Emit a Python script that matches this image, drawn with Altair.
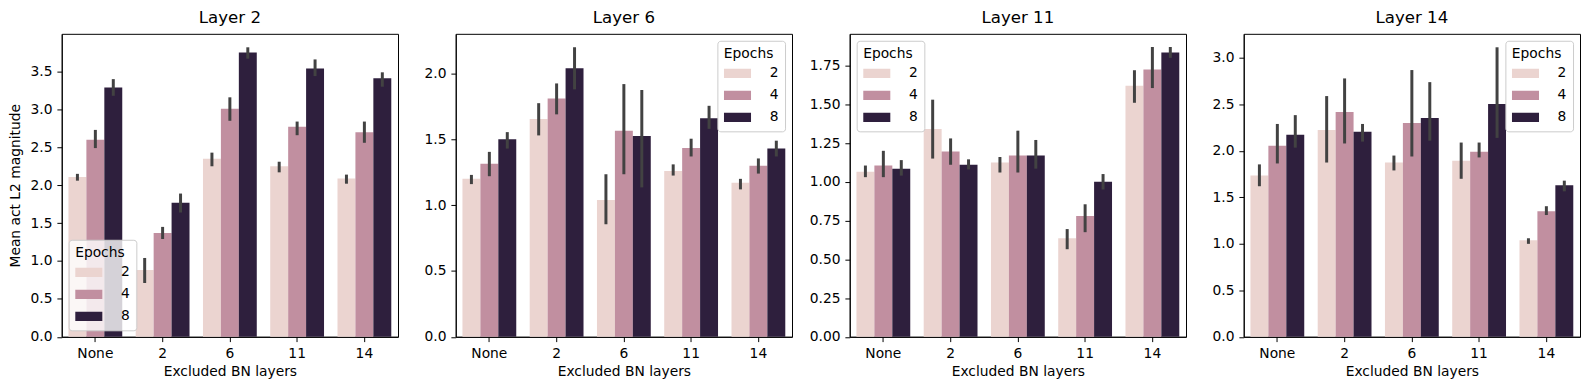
import altair as alt
import pandas as pd

categories = ["None", "2", "6", "11", "14"]
epochs = ["2", "4", "8"]
layers = ["Layer 2", "Layer 6", "Layer 11", "Layer 14"]

# mean values [panel][epoch][category]
means = {
    "Layer 2": {
        "2": [2.11, 0.88, 2.35, 2.25, 2.09],
        "4": [2.60, 1.37, 3.01, 2.77, 2.70],
        "8": [3.29, 1.77, 3.75, 3.54, 3.41],
    },
    "Layer 6": {
        "2": [1.20, 1.655, 1.04, 1.26, 1.17],
        "4": [1.315, 1.81, 1.565, 1.435, 1.30],
        "8": [1.50, 2.04, 1.525, 1.66, 1.43],
    },
    "Layer 11": {
        "2": [1.065, 1.34, 1.125, 0.635, 1.62],
        "4": [1.105, 1.195, 1.17, 0.78, 1.725],
        "8": [1.085, 1.11, 1.17, 1.00, 1.835],
    },
    "Layer 14": {
        "2": [1.735, 2.225, 1.875, 1.895, 1.04],
        "4": [2.055, 2.42, 2.30, 1.99, 1.35],
        "8": [2.175, 2.205, 2.355, 2.505, 1.63],
    },
}
err_lo = {
    "Layer 2": {
        "2": [2.06, 0.71, 2.25, 2.17, 2.02],
        "4": [2.49, 1.29, 2.85, 2.66, 2.56],
        "8": [3.18, 1.64, 3.67, 3.44, 3.30],
    },
    "Layer 6": {
        "2": [1.16, 1.53, 0.855, 1.225, 1.12],
        "4": [1.22, 1.69, 1.235, 1.37, 1.24],
        "8": [1.43, 1.88, 1.135, 1.58, 1.37],
    },
    "Layer 11": {
        "2": [1.03, 1.15, 1.06, 0.565, 1.51],
        "4": [1.03, 1.11, 1.06, 0.675, 1.605],
        "8": [1.04, 1.08, 1.085, 0.95, 1.80],
    },
    "Layer 14": {
        "2": [1.62, 1.875, 1.79, 1.70, 1.00],
        "4": [1.865, 2.08, 1.94, 1.93, 1.31],
        "8": [2.035, 2.10, 2.11, 2.14, 1.565],
    },
}
err_hi = {
    "Layer 2": {
        "2": [2.15, 1.04, 2.43, 2.31, 2.14],
        "4": [2.73, 1.45, 3.16, 2.84, 2.84],
        "8": [3.40, 1.89, 3.82, 3.66, 3.49],
    },
    "Layer 6": {
        "2": [1.23, 1.775, 1.235, 1.31, 1.20],
        "4": [1.405, 1.925, 1.92, 1.505, 1.355],
        "8": [1.555, 2.20, 1.875, 1.755, 1.49],
    },
    "Layer 11": {
        "2": [1.105, 1.53, 1.16, 0.695, 1.72],
        "4": [1.20, 1.28, 1.33, 0.855, 1.87],
        "8": [1.14, 1.145, 1.27, 1.05, 1.87],
    },
    "Layer 14": {
        "2": [1.855, 2.59, 1.95, 2.09, 1.06],
        "4": [2.29, 2.78, 2.87, 2.09, 1.405],
        "8": [2.385, 2.29, 2.74, 3.115, 1.68],
    },
}
y_max = {"Layer 2": 3.998, "Layer 6": 2.302, "Layer 11": 1.955, "Layer 14": 3.26}
y_ticks = {
    "Layer 2": [0, 0.5, 1.0, 1.5, 2.0, 2.5, 3.0, 3.5],
    "Layer 6": [0, 0.5, 1.0, 1.5, 2.0],
    "Layer 11": [0, 0.25, 0.5, 0.75, 1.0, 1.25, 1.5, 1.75],
    "Layer 14": [0, 0.5, 1.0, 1.5, 2.0, 2.5, 3.0],
}
y_format = {"Layer 2": ".1f", "Layer 6": ".1f", "Layer 11": ".2f", "Layer 14": ".1f"}
legend_orient = {"Layer 2": "bottom-left", "Layer 6": "top-right",
                 "Layer 11": "top-left", "Layer 14": "top-right"}

colors = ["#ebd4d0", "#c18fa0", "#2e1f3d"]
FONT = "DejaVu Sans"
FS = 13.9
PW, PH = 338, 304.5


def panel(layer, first):
    rows = []
    for e in epochs:
        for i, c in enumerate(categories):
            rows.append({"excl": c, "epochs": e,
                         "mean": means[layer][e][i],
                         "lo": err_lo[layer][e][i],
                         "hi": err_hi[layer][e][i]})
    df = pd.DataFrame(rows)
    x = alt.X("excl:N", sort=categories, title="Excluded BN layers",
              scale=alt.Scale(paddingInner=0.2, paddingOuter=0.1),
              axis=alt.Axis(labelAngle=0))
    xo = alt.XOffset("epochs:N", sort=epochs,
                     scale=alt.Scale(paddingInner=0, paddingOuter=0))
    yaxis = alt.Axis(values=y_ticks[layer], format=y_format[layer],
                     minExtent=32 if first else 44.8,
                     maxExtent=32 if first else 44.8,
                     titlePadding=7)
    y = alt.Y("mean:Q",
              title="Mean act L2 magnitude" if first else None,
              scale=alt.Scale(domain=[0, y_max[layer]], nice=False, zero=True),
              axis=yaxis)
    base = alt.Chart(df)
    bars = base.mark_bar().encode(
        x=x, xOffset=xo, y=y,
        color=alt.Color("epochs:N", sort=epochs, title="Epochs",
                        scale=alt.Scale(domain=epochs, range=colors),
                        legend=alt.Legend(orient=legend_orient[layer])),
    )
    errs = base.mark_rule(color="#424242", strokeWidth=3).encode(
        x=x, xOffset=xo, y="lo:Q", y2="hi:Q",
    )
    return alt.layer(bars, errs).properties(
        width=PW, height=PH,
        title=alt.TitleParams(layer, fontSize=16.7, fontWeight="normal",
                              offset=7.6, font=FONT, color="black"),
    )


chart = alt.hconcat(
    *[panel(l, i == 0) for i, l in enumerate(layers)], spacing=11
).resolve_scale(
    y="independent", color="independent"
).resolve_legend(
    color="independent"
).configure(
    padding=0, font=FONT, background="white"
).configure_view(
    stroke="black", strokeWidth=1
).configure_axis(
    grid=False, domainColor="black", tickColor="black", tickSize=4.86,
    labelPadding=4.86, labelFontSize=FS, labelColor="black",
    titleFontSize=FS, titleColor="black", titleFontWeight="normal",
    labelFont=FONT, titleFont=FONT,
).configure_axisX(
    titlePadding=4,
).configure_legend(
    fillColor="rgba(255,255,255,0.8)", strokeColor="#cccccc", cornerRadius=3,
    padding=6.5, offset=7, titleFontSize=FS, titleFontWeight="normal",
    titleColor="black", labelColor="black", labelFontSize=FS,
    titleFont=FONT, labelFont=FONT,
    symbolType="M-2.73,-0.93L2.73,-0.93L2.73,0.93L-2.73,0.93Z", symbolSize=100,
    symbolStrokeWidth=0, symbolOpacity=1, symbolOffset=6.7,
    labelOffset=25.4, rowPadding=7.1, titlePadding=5.4, clipHeight=13.9,
)

chart.save("out.html", embed_options={"renderer": "svg", "actions": False})
